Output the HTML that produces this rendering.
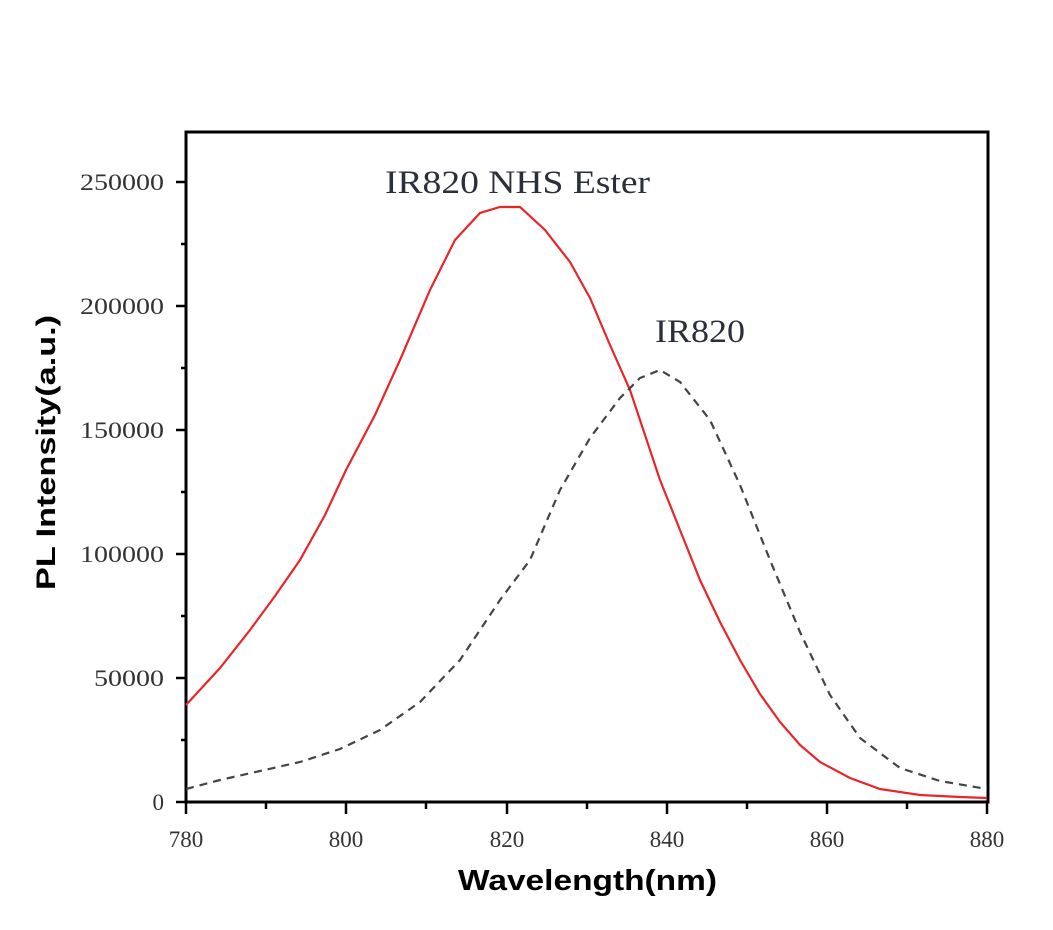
<!DOCTYPE html>
<html><head><style>body{margin:0;background:#fff}</style></head><body>
<svg width="1053" height="925" xmlns="http://www.w3.org/2000/svg">
<rect width="1053" height="925" fill="#fff"/>
<g stroke="#000" stroke-width="3" fill="none">
<path d="M186,132 H988 V802 H186 Z"/>
</g>
<g stroke="#000" stroke-width="2.5">
<line x1="176" y1="802" x2="186" y2="802"/><line x1="176" y1="678" x2="186" y2="678"/>
<line x1="176" y1="554" x2="186" y2="554"/><line x1="176" y1="430" x2="186" y2="430"/>
<line x1="176" y1="306" x2="186" y2="306"/><line x1="176" y1="182" x2="186" y2="182"/>
<line x1="181" y1="740" x2="186" y2="740"/><line x1="181" y1="616" x2="186" y2="616"/>
<line x1="181" y1="492" x2="186" y2="492"/><line x1="181" y1="368" x2="186" y2="368"/>
<line x1="181" y1="244" x2="186" y2="244"/>
<line x1="186" y1="802" x2="186" y2="814"/><line x1="346" y1="802" x2="346" y2="814"/>
<line x1="507" y1="802" x2="507" y2="814"/><line x1="667" y1="802" x2="667" y2="814"/>
<line x1="827" y1="802" x2="827" y2="814"/><line x1="987" y1="802" x2="987" y2="814"/>
<line x1="266" y1="802" x2="266" y2="809"/><line x1="426" y1="802" x2="426" y2="809"/>
<line x1="587" y1="802" x2="587" y2="809"/><line x1="747" y1="802" x2="747" y2="809"/>
<line x1="907" y1="802" x2="907" y2="809"/>
</g>
<g font-family="Liberation Serif, serif" font-size="23" fill="#333" text-anchor="end">
<text x="164" y="810">0</text>
<text x="164" y="686" textLength="70" lengthAdjust="spacingAndGlyphs">50000</text>
<text x="164" y="562" textLength="84" lengthAdjust="spacingAndGlyphs">100000</text>
<text x="164" y="438" textLength="84" lengthAdjust="spacingAndGlyphs">150000</text>
<text x="164" y="314" textLength="84" lengthAdjust="spacingAndGlyphs">200000</text>
<text x="164" y="190" textLength="84" lengthAdjust="spacingAndGlyphs">250000</text>
</g>
<g font-family="Liberation Serif, serif" font-size="23" fill="#333" text-anchor="middle">
<text x="186" y="847">780</text><text x="346" y="847">800</text><text x="507" y="847">820</text>
<text x="667" y="847">840</text><text x="827" y="847">860</text><text x="987" y="847">880</text>
</g>
<text x="458" y="890" font-family="Liberation Sans, sans-serif" font-weight="bold" font-size="29" textLength="259" lengthAdjust="spacingAndGlyphs">Wavelength(nm)</text>
<text transform="translate(55,590) rotate(-90)" font-family="Liberation Sans, sans-serif" font-weight="bold" font-size="27" textLength="275" lengthAdjust="spacingAndGlyphs">PL Intensity(a.u.)</text>
<text x="385" y="193" font-family="Liberation Serif, serif" font-size="33" fill="#2a2f3a" textLength="265" lengthAdjust="spacingAndGlyphs">IR820 NHS Ester</text>
<text x="655" y="342" font-family="Liberation Serif, serif" font-size="33" fill="#2a2f3a" textLength="90" lengthAdjust="spacingAndGlyphs">IR820</text>
<polyline fill="none" stroke="#e8262a" stroke-width="2.2" points="186,705 220,668 250,630 275,596 300,560 325,515 346,470 375,415 400,360 430,290 455,240 480,213 500,207 520,207 545,230 570,262 590,298 610,345 630,390 660,480 680,530 700,580 720,622 740,660 760,694 780,722 800,745 820,762 850,778 880,789 920,795 960,797 987,798"/>
<polyline fill="none" stroke="#444" stroke-width="2.2" stroke-dasharray="8,6" points="186,789 220,780 260,771 300,762 340,749 380,730 420,702 460,660 500,600 530,560 560,490 590,438 620,398 640,378 660,370 680,382 710,420 740,485 770,560 800,632 830,695 860,738 900,768 940,781 987,789"/>
</svg>
</body></html>
